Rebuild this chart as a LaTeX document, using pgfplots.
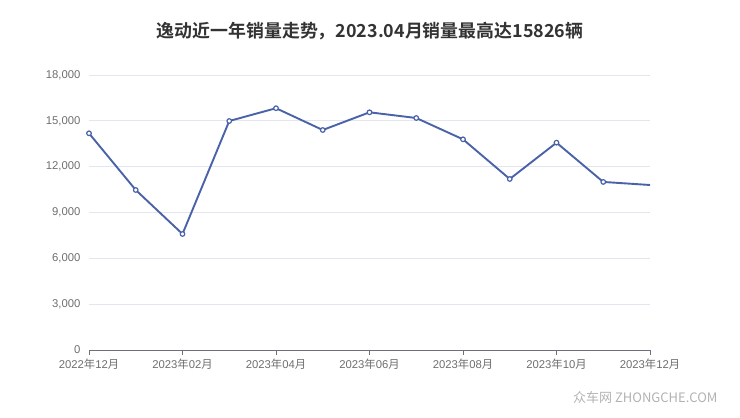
\documentclass[border=0pt]{standalone}
\usepackage{pgfplots}
\pgfplotsset{compat=1.18}
\usepackage{fontspec}
\setmainfont{Liberation Sans}
\newfontfamily\cjk{Noto Sans CJK SC}
\newfontfamily\cjkb{Noto Sans CJK SC Bold}
\definecolor{lineblue}{HTML}{4A62A8}
\definecolor{gridc}{HTML}{E3E6EE}
\definecolor{labc}{HTML}{6E6E6E}
\definecolor{axc}{HTML}{6E7079}
\begin{document}
\begin{tikzpicture}[x=1bp,y=1bp]
\useasboundingbox (0,0) rectangle (740,417);
\node[font=\cjkb\fontsize{17.9bp}{19bp}\selectfont, text=black!80] at (370,386) {逸动近一年销量走势，2023.04月销量最高达15826辆};
\begin{axis}[
  at={(89bp,67bp)}, anchor=south west,
  scale only axis, width=561bp, height=275bp,
  xmin=0, xmax=12, ymin=0, ymax=18000,
  xtick={0,2,4,6,8,10,12},
  xticklabels={2022{\cjk 年}12{\cjk 月},2023{\cjk 年}02{\cjk 月},2023{\cjk 年}04{\cjk 月},2023{\cjk 年}06{\cjk 月},2023{\cjk 年}08{\cjk 月},2023{\cjk 年}10{\cjk 月},2023{\cjk 年}12{\cjk 月}},
  ytick={0,3000,6000,9000,12000,15000,18000},
  scaled y ticks=false,
  tick label style={font=\fontsize{11.3bp}{13bp}\selectfont, text=labc},
  yticklabel style={xshift=0bp, /pgf/number format/.cd, 1000 sep={,}, assume math mode=true},
  axis x line*=bottom, axis y line*=left,
  x axis line style={draw=axc, line width=1bp, -},
  y axis line style={draw=none},
  xtick style={draw=axc, line width=1bp},
  ytick style={draw=none},
  major tick length=5bp,
  tick align=outside,
  ymajorgrids, grid style={draw=gridc, line width=0.8bp},
  xticklabel style={yshift=0bp},
  clip=false,
]
\addplot[color=lineblue, line width=1.9bp, mark=*, mark size=2.3bp, mark options={fill=white, draw=lineblue, line width=1.2bp}]
coordinates {(0,14184) (1,10473) (2,7593) (3,14989) (4,15826) (5,14400) (6,15558) (7,15185) (8,13790) (9,11193) (10,13570) (11,11000)};
\addplot[color=lineblue, line width=1.9bp, forget plot] coordinates {(11,11000) (12,10800)};
\end{axis}
\node[anchor=east, font=\cjk\fontsize{13bp}{14bp}\selectfont, text=black!30] at (721,19) {众车网 ZHONGCHE.COM};
\end{tikzpicture}
\end{document}
